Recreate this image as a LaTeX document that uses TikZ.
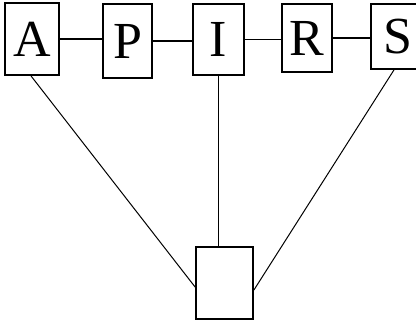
\documentclass[tikz,border=0pt]{standalone}
\usepackage{fontspec}
\setmainfont{Liberation Serif}
\usepackage{tikz}
\usetikzlibrary{positioning}
\tikzset{
  letbox/.style={draw, line width=0.9pt, inner sep=0pt, font=\fontsize{26}{30}\selectfont},
  link/.style={line width=0.75pt},
  slant/.style={line width=0.5pt},
}

\begin{document}
\begin{tikzpicture}[x=0.5pt,y=-0.5pt]
\useasboundingbox (0,0) rectangle (416,323);
% ---------------- top row
\node[letbox, minimum width=27pt, minimum height=36pt] (A) at (32,39) {A};
\node[letbox, minimum width=24.5pt, minimum height=37pt] (P) at (127.5,41) {P};
\node[letbox, minimum width=25.5pt, minimum height=35.5pt] (I) at (218.5,39.5) {I};
\node[letbox, minimum width=25pt, minimum height=34pt] (R) at (307,38) {R};
\node[letbox, minimum width=27pt, minimum height=32.5pt] (S) at (398,36.5) {S};
\draw[link] (A.east) -- (A.east -| P.west);
\draw[link] (P.east) -- (P.east -| I.west);
\draw[link] (I.east) -- (I.east -| R.west);
\draw[link] (R.east) -- (R.east -| S.west);
% ---------------- bottom box
\node[letbox, minimum width=28.5pt, minimum height=36pt] (B) at (224.5,283) {};
\draw[link] (I.south) -- (I.south |- B.north);
\draw[slant] ([xshift=-0.5pt]A.south) -- ([yshift=-2pt]B.west);
\draw[slant] ([xshift=-2pt]S.south) -- ([yshift=-3.5pt]B.east);
\end{tikzpicture}
\end{document}
